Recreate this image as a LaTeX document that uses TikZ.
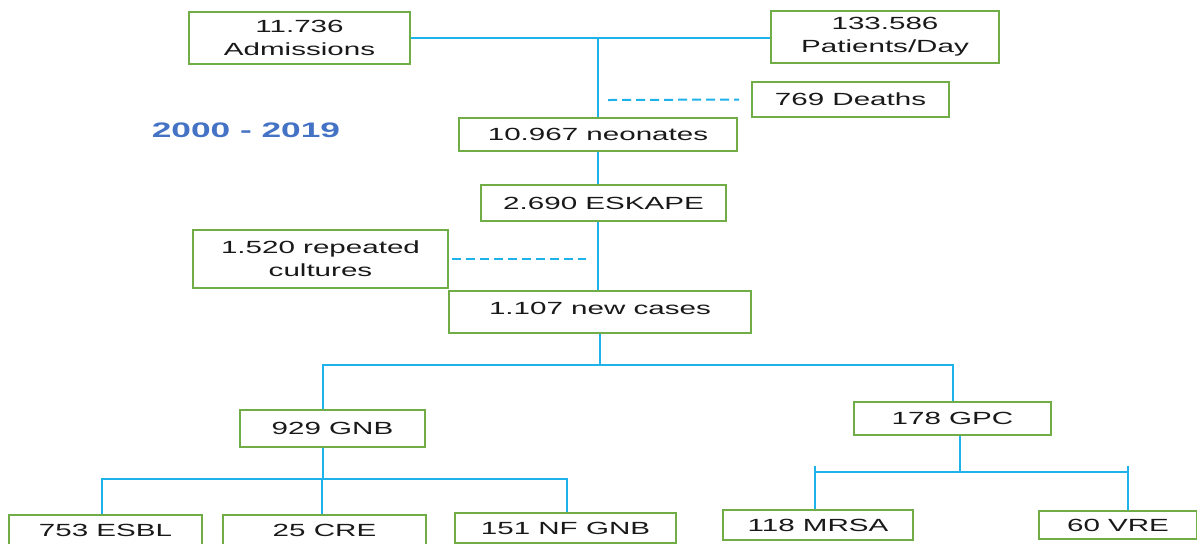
\documentclass[tikz,border=0pt]{standalone}
\usepackage{fontspec}
\setmainfont[FakeStretch=1.68]{Liberation Sans}
\definecolor{boxgreen}{RGB}{112,173,71}
\definecolor{linkblue}{RGB}{30,178,235}
\definecolor{yearblue}{RGB}{68,114,196}

\begin{document}
\begin{tikzpicture}[x=0.5pt, y=-0.5pt,
    box/.style={draw=boxgreen, line width=1pt, fill=white, inner sep=0pt, align=center,
      text=black!90, font=\fontsize{8.8}{11.5}\selectfont},
    link/.style={draw=linkblue, line width=1pt},
    dlink/.style={link, dash pattern=on 4.5pt off 2.5pt}]
  \clip (0,0) rectangle (1197,543);
  \fill[white] (0,0) rectangle (1197,543);

  % top row
  \node[box, minimum width=110.5pt, minimum height=26pt] (adm) at (299.5,38) {11.736\\Admissions};
  \node[box, minimum width=114pt, minimum height=26pt] (pat) at (885,37) {133.586\\Patients/Day};
  \node[box, minimum width=98.5pt, minimum height=17.5pt] (deaths) at (850.5,99.5) {769 Deaths};
  \node[text=yearblue, font=\bfseries\fontsize{10.5}{12}\selectfont] (years) at (246,130) {2000 - 2019};

  % main column
  \node[box, minimum width=139pt, minimum height=16.5pt] (neo) at (598,134.5) {10.967 neonates};
  \node[box, minimum width=122.5pt, minimum height=18pt] (esk) at (603.5,203) {2.690 ESKAPE};
  \node[box, minimum width=127.5pt, minimum height=29pt] (rep) at (320.5,259) {1.520 repeated\\cultures};
  \node[box, minimum width=151pt, minimum height=21pt] (new) at (600,312) {\raisebox{3.5pt}{1.107 new cases}};

  % groups
  \node[box, minimum width=92.5pt, minimum height=18.5pt] (gnb) at (332.5,428.5) {929 GNB};
  \node[box, minimum width=98.5pt, minimum height=16.5pt] (gpc) at (952.5,418.5) {178 GPC};

  % bottom row
  \node[box, minimum width=96.5pt, minimum height=15pt] (esbl) at (105.5,530) {753 ESBL};
  \node[box, minimum width=101.5pt, minimum height=15pt] (cre) at (324.5,530) {25 CRE};
  \node[box, minimum width=110.5pt, minimum height=15pt] (nfgnb) at (565.5,528) {151 NF GNB};
  \node[box, minimum width=95pt, minimum height=15pt] (mrsa) at (818,525) {118 MRSA};
  \node[box, minimum width=79pt, minimum height=14pt] (vre) at (1118,525) {60 VRE};

  \coordinate (dd) at (608,100);
  \coordinate (rc) at (586,259);
  \coordinate (bus1) at (599,365);
  \coordinate (bus2) at (321,479);
  \coordinate (bus3) at (960,472);

  \draw[link] (adm.east) -- (adm.east -| pat.west);
  \draw[link] (neo.north) -- (neo.north |- adm.east);
  \draw[dlink] (dd) -- ([xshift=-6pt]deaths.west);
  \draw[link] (neo.south) -- (neo.south |- esk.north);
  \draw[link] (neo.south |- esk.south) -- (neo.south |- new.north);
  \draw[dlink] ([xshift=1.5pt]rep.east) -- (rc);

  \draw[link] (new.south) -- (new.south |- bus1);
  \draw[link] ([xshift=-5pt]gnb.north) |- (bus1) -| (gpc.north);

  \draw[link] ([xshift=-5pt]gnb.south) -- ([xshift=-5pt]gnb.south |- bus2);
  \draw[link] ([xshift=-1.75pt]esbl.north) |- (bus2) -| ([xshift=0.75pt]nfgnb.north);
  \draw[link] ([xshift=-1.25pt]cre.north) -- ([xshift=-1.25pt]cre.north |- bus2);

  \draw[link] ([xshift=3.75pt]gpc.south) -- (bus3);
  \draw[link] ([xshift=-1.5pt]mrsa.north) -- ++(0,-43);
  \draw[link] ([xshift=5pt]vre.north) -- ++(0,-44);
  \draw[link] ([xshift=-1.5pt]mrsa.north |- bus3) -- ([xshift=5pt]vre.north |- bus3);
\end{tikzpicture}
\end{document}
